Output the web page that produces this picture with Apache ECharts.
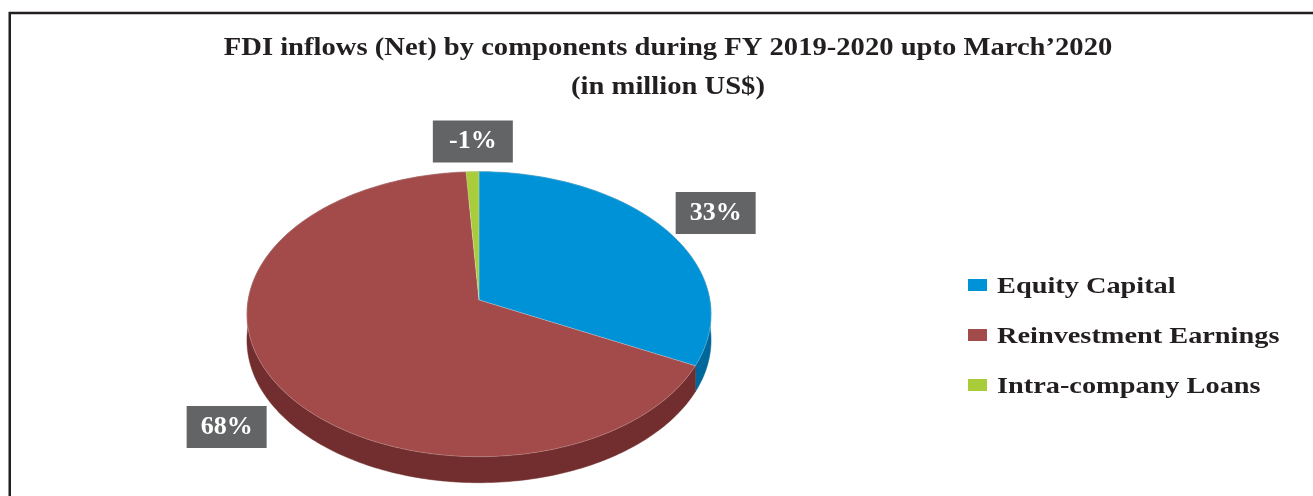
<!DOCTYPE html>
<html>
<head>
<meta charset="utf-8">
<script src="https://cdn.jsdelivr.net/npm/echarts@6/dist/echarts.min.js"></script>
<style>
  html, body { margin: 0; padding: 0; background: #fff; }
  #chart { width: 1313px; height: 496px; }
</style>
</head>
<body>
<div id="chart"></div>
<script>
// FDI inflows (net) by component, FY 2019-2020 up to March 2020
const titleLines = ['FDI inflows (Net) by components during FY 2019-2020 upto March\u20192020', '(in million US$)'];
const components = ['Equity Capital', 'Reinvestment Earnings', 'Intra-company Loans'];
const shares = [33, 68, -1];            // percent of net inflow
const labels = ['33%', '68%', '-1%'];
const colors = ['#0092D6', '#A34A4A', '#A9CD3A'];
const sideColors = ['#00679B', '#722E2E', '#789A22'];

const FONT = '"Liberation Serif", "Times New Roman", serif';
const INK = '#231F20';

// slices are sized by magnitude, laid clockwise from 12 o'clock
const total = shares.reduce((s, v) => s + Math.abs(v), 0);
const starts = [];
let acc = 0;
shares.forEach(v => { starts.push(acc / total * Math.PI * 2); acc += Math.abs(v); });

// tilted disc seen in perspective
const DISC = { cx: 479, cy: 300, a: 230.9, b: 141.1, k: 0.0996, depth: 26 };
function project(theta, r) {
  const u = r * Math.sin(theta);
  const v = -r * Math.cos(theta);
  const w = 1 - DISC.k * v;
  return [DISC.cx + DISC.a * u / w, DISC.cy + DISC.b * v / w];
}

const LABEL_BOX = { w: 80, h: 42 };

function renderSlice(params, api) {
  const i = params.seriesIndex;
  const a0 = starts[i];
  const a1 = a0 + Math.abs(api.value(0)) / total * Math.PI * 2;
  const steps = Math.max(2, Math.ceil((a1 - a0) / (Math.PI / 180)));
  const arc = [];
  for (let s = 0; s <= steps; s++) arc.push(project(a0 + (a1 - a0) * s / steps, 1));
  const lower = arc.map(p => [p[0], p[1] + DISC.depth]).reverse();
  const apex = project(0, 0);

  // label sits just outside the rim, pushed away along the slice direction
  const mid = (a0 + a1) / 2;
  const anchor = project(mid, 1.08);
  if (-Math.cos(mid) > 0) anchor[1] += DISC.depth;
  const lx = anchor[0] + Math.sin(mid) * LABEL_BOX.w / 2;
  const ly = anchor[1] - Math.cos(mid) * LABEL_BOX.h / 2;

  return {
    type: 'group',
    children: [
      {
        type: 'polygon', z2: 1,
        shape: { points: arc.concat(lower) },
        style: { fill: sideColors[i], stroke: sideColors[i], lineWidth: 0.5 }
      },
      {
        type: 'polygon', z2: 5,
        shape: { points: [apex].concat(arc) },
        style: { fill: colors[i], stroke: 'rgba(255,255,255,0.35)', lineWidth: 0.6 }
      },
      {
        type: 'text', z2: 10,
        x: lx + 2, y: ly,
        style: {
          text: labels[i],
          fill: '#ffffff',
          font: 'bold 26px ' + FONT,
          align: 'center', verticalAlign: 'middle',
          backgroundColor: '#636466',
          width: 52, height: 26, lineHeight: 26,
          padding: [8, 14]
        }
      }
    ]
  };
}

// title, set with the same wide tracking as the legend
const titleGraphics = titleLines.map((t, j) => ({
  type: 'text', silent: true,
  x: 668, y: 48.5 + j * 39,
  scaleX: 1.144,
  style: { text: t, font: 'bold 25px ' + FONT, fill: INK, align: 'center', verticalAlign: 'middle' }
}));

// legend: colour key beside the disc
const legendGraphics = [];
components.forEach((name, i) => {
  const cy = 285 + i * 50;
  legendGraphics.push({
    type: 'rect', silent: true,
    shape: { x: 968, y: cy - 6, width: 19, height: 12 },
    style: { fill: colors[i] }
  });
  legendGraphics.push({
    type: 'text', silent: true,
    x: 997, y: cy + 2,
    scaleX: 1.18,
    style: { text: name, font: 'bold 24px ' + FONT, fill: INK, align: 'left', verticalAlign: 'middle' }
  });
});

const chart = echarts.init(document.getElementById('chart'));
chart.setOption({
  animation: false,
  backgroundColor: '#ffffff',
  graphic: [{
    type: 'rect', silent: true,
    shape: { x: 9.75, y: 13, width: 1400, height: 600 },
    style: { fill: 'none', stroke: INK, lineWidth: 2.5 }
  }].concat(titleGraphics, legendGraphics),
  series: components.map((name, i) => ({
    type: 'custom',
    name: name,
    coordinateSystem: 'none',
    itemStyle: { color: colors[i] },
    renderItem: renderSlice,
    data: [shares[i]]
  }))
});
</script>
</body>
</html>
